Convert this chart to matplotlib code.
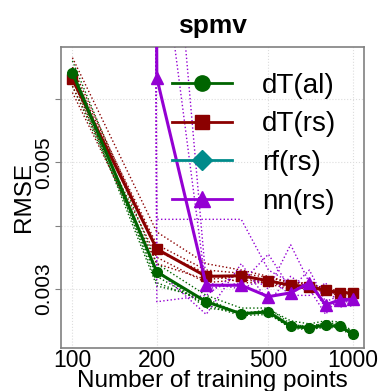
import matplotlib
matplotlib.use("Agg")
import matplotlib.pyplot as plt
from matplotlib.lines import Line2D
import numpy as np

plt.rcParams['font.family'] = ['Liberation Sans', 'DejaVu Sans']

# training set sizes
n_train = [100, 200, 300, 400, 500, 600, 700, 800, 900, 1000]

# mean RMSE per method
dt_al = [0.00641, 0.00327, 0.00280, 0.00261, 0.00264, 0.00241, 0.00239, 0.00243, 0.00241, 0.00229]
dt_rs = [0.00631, 0.00363, 0.00320, 0.00321, 0.00313, 0.00306, 0.00304, 0.00298, 0.00294, 0.00294]
rf_rs = [np.nan] * 10
nn_rs = [0.3, 0.00633, 0.00306, 0.00306, 0.00288, 0.00294, 0.00310, 0.00275, 0.00283, 0.00284]

# individual runs (dotted)
dt_al_runs = [
    [0.00660, 0.00340, 0.00290, 0.00270, 0.00270, 0.00245, 0.00240, 0.00247, 0.00245, 0.00232],
    [0.00630, 0.00320, 0.00275, 0.00258, 0.00260, 0.00240, 0.00237, 0.00240, 0.00238, 0.00226],
    [0.00650, 0.00310, 0.00280, 0.00260, 0.00266, 0.00243, 0.00242, 0.00246, 0.00243, 0.00231],
    [0.00620, 0.00330, 0.00270, 0.00264, 0.00262, 0.00238, 0.00236, 0.00240, 0.00240, 0.00227],
    [0.00640, 0.00305, 0.00285, 0.00260, 0.00268, 0.00250, 0.00245, 0.00250, 0.00248, 0.00233],
]
dt_rs_runs = [
    [0.00665, 0.00390, 0.00340, 0.00330, 0.00320, 0.00310, 0.00310, 0.00300, 0.00298, 0.00297],
    [0.00620, 0.00350, 0.00310, 0.00315, 0.00310, 0.00303, 0.00300, 0.00295, 0.00290, 0.00290],
    [0.00640, 0.00370, 0.00330, 0.00325, 0.00318, 0.00310, 0.00308, 0.00300, 0.00296, 0.00295],
    [0.00610, 0.00340, 0.00315, 0.00320, 0.00308, 0.00300, 0.00302, 0.00296, 0.00292, 0.00292],
    [0.00650, 0.00360, 0.00325, 0.00310, 0.00310, 0.00305, 0.00300, 0.00298, 0.00295, 0.00296],
]
nn_rs_runs = [
    [0.3, 0.00410, 0.00410, 0.00410, 0.00330, 0.00310, 0.00300, 0.00290, 0.00300, 0.00290],
    [0.3, 0.00280, 0.00290, 0.00330, 0.00300, 0.00370, 0.00310, 0.00270, 0.00280, 0.00280],
    [0.3, 0.00900, 0.00300, 0.00310, 0.00355, 0.00300, 0.00330, 0.00280, 0.00290, 0.00280],
    [0.3, 0.01200, 0.00310, 0.00300, 0.00320, 0.00290, 0.00290, 0.00310, 0.00270, 0.00290],
    [0.3, 0.00330, 0.00260, 0.00340, 0.00280, 0.00320, 0.00300, 0.00260, 0.00290, 0.00270],
]

green = '#006400'
red = '#8b0000'
teal = '#008b8b'
purple = '#9400d3'

fig = plt.figure(figsize=(3.81, 3.91), dpi=100)
ax = fig.add_axes([0.160, 0.110, 0.795, 0.770])

for runs, c in [(dt_al_runs, green), (dt_rs_runs, red), (nn_rs_runs, purple)]:
    for r in runs:
        ax.plot(n_train, r, ':', color=c, lw=1.0, zorder=2)

ax.plot(n_train, dt_al, '-o', color=green, lw=2.2, ms=7, zorder=4)
ax.plot(n_train, dt_rs, '-s', color=red, lw=2.2, ms=7, zorder=3)
ax.plot(n_train, rf_rs, '-D', color=teal, lw=2.2, ms=7, zorder=3)
ax.plot(n_train, nn_rs, '-^', color=purple, lw=2.2, ms=8, zorder=3)

ax.set_xscale('log')
ax.set_xlim(91, 1095)
ax.set_ylim(0.00207, 0.00682)

ax.set_xticks([100, 200, 500, 1000])
ax.set_xticklabels(['100', '200', '500', '1000'], fontsize=16.5)
ax.xaxis.set_minor_locator(matplotlib.ticker.NullLocator())
ax.set_yticks([0.003, 0.004, 0.005, 0.006])
ax.set_yticklabels(['0.003', '', '0.005', ''], fontsize=15, rotation=90, va='center')
ax.tick_params(axis='x', length=0, pad=1)
ax.tick_params(axis='y', length=4, color='#808080', pad=2)
ax.grid(True, color='#dddddd', ls=':', lw=0.8)

for s in ax.spines.values():
    s.set_color('#808080')
    s.set_linewidth(1.2)

ax.set_xlabel('Number of training points', fontsize=17.5, labelpad=-2)
ax.set_ylabel('RMSE', fontsize=17.5, labelpad=-1)
ax.set_title('spmv', fontsize=19, fontweight='bold', pad=10)

handles = [
    Line2D([], [], color=green, lw=2, marker='o', ms=11),
    Line2D([], [], color=red, lw=2, marker='s', ms=10),
    Line2D([], [], color=teal, lw=2, marker='D', ms=10),
    Line2D([], [], color=purple, lw=2, marker='^', ms=12),
]
ax.legend(handles, ['dT(al)', 'dT(rs)', 'rf(rs)', 'nn(rs)'], loc='upper left',
          bbox_to_anchor=(0.366, 0.915), frameon=False, fontsize=20,
          handlelength=2.16, handletextpad=1.08, labelspacing=0.46,
          borderpad=0, borderaxespad=0)

fig.savefig('out.png', dpi=100)
